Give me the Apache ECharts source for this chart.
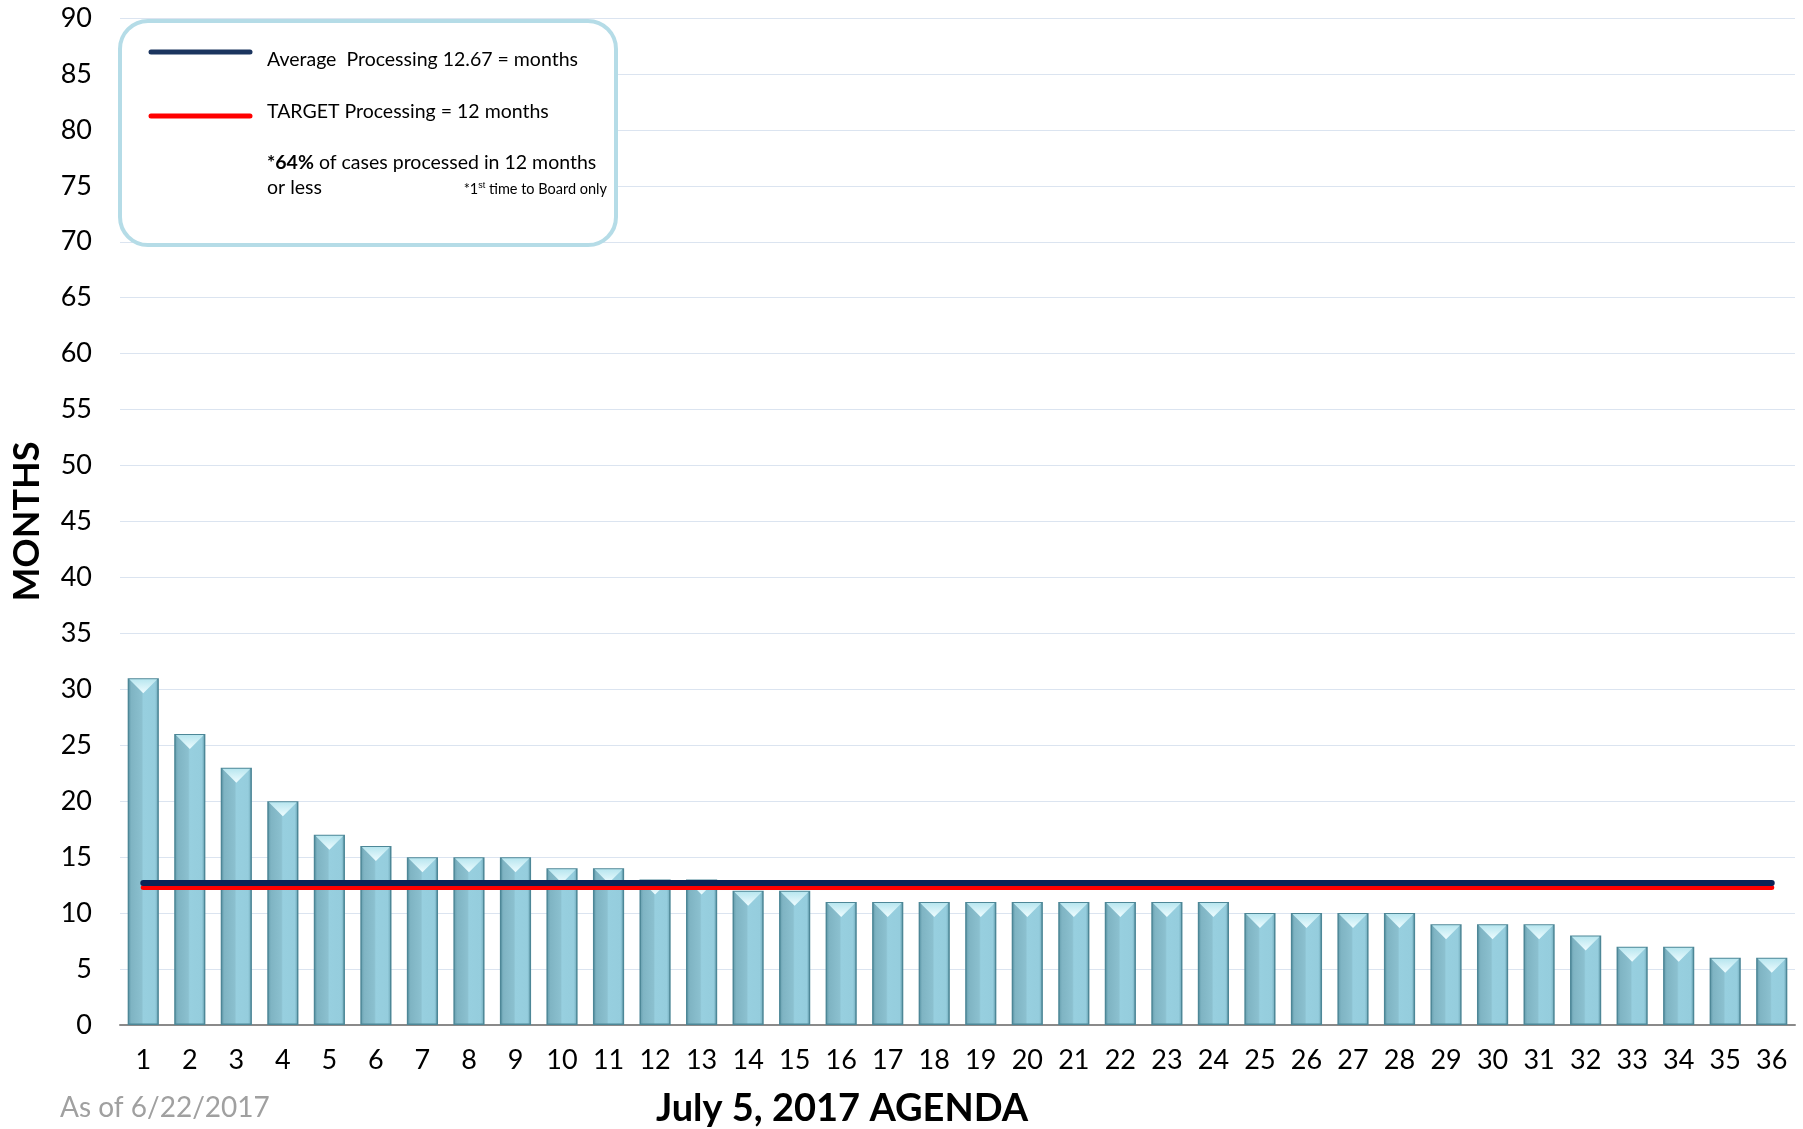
<!DOCTYPE html>
<html>
<head>
<meta charset="utf-8">
<script src="https://cdn.jsdelivr.net/npm/echarts@6/dist/echarts.min.js"></script>
<style>
  html, body { margin: 0; padding: 0; background: #fff; }
  #chart { width: 1803px; height: 1129px; }
</style>
</head>
<body>
<div id="chart"></div>
<script>
// data
var cases = ['1','2','3','4','5','6','7','8','9','10','11','12','13','14','15','16','17','18',
             '19','20','21','22','23','24','25','26','27','28','29','30','31','32','33','34','35','36'];
var months = [31, 26, 23, 20, 17, 16, 15, 15, 15, 14, 14, 13, 13, 12, 12, 11, 11, 11,
              11, 11, 11, 11, 11, 11, 10, 10, 10, 10, 9, 9, 9, 8, 7, 7, 6, 6];
var averageMonths = 12.67;
var targetMonths = 12.3;
var yTicks = [0, 90, 5];

var FONT = 'Lato, "Open Sans", sans-serif';

function loadChartView(id, option) {
    var myChart = echarts.init(document.getElementById(id));
    myChart.setOption(option);
    window.addEventListener('resize', function () {
        myChart.resize();
    });
    return myChart;
}

function getChart() {
    var option = {
        animation: false,
        backgroundColor: '#ffffff',
        grid: { left: 120, right: 8, top: 18, bottom: 104, outerBoundsMode: 'none', containLabel: false },
        xAxis: {
            type: 'category',
            data: cases,
            axisTick: { show: false },
            axisLine: { lineStyle: { color: '#8a8a8a', width: 2 } },
            axisLabel: { color: '#000', fontSize: 27, fontFamily: FONT, margin: 22 }
        },
        yAxis: {
            type: 'value',
            min: yTicks[0],
            max: yTicks[1],
            interval: yTicks[2],
            name: 'MONTHS',
            nameLocation: 'middle',
            nameRotate: 90,
            nameGap: 75,
            nameTextStyle: { color: '#000', fontSize: 36, fontWeight: 'bold', fontFamily: FONT },
            axisLine: { show: false },
            axisTick: { show: false },
            splitLine: { lineStyle: { color: '#dbe4f0', width: 1.2 } },
            axisLabel: { color: '#000', fontSize: 27, fontFamily: FONT, margin: 28 }
        },
        series: [
            {
                type: 'bar',
                data: months,
                barCategoryGap: '33%',
                z: 2,
                itemStyle: {
                    borderColor: '#4d8797',
                    borderWidth: 1.5,
                    color: new echarts.graphic.LinearGradient(0, 0, 1, 0, [
                        { offset: 0, color: '#5f98a8' },
                        { offset: 0.12, color: '#7fb4c3' },
                        { offset: 0.45, color: '#8bc0cf' },
                        { offset: 0.5, color: '#97cfdf' },
                        { offset: 0.88, color: '#95cddd' },
                        { offset: 1, color: '#6aa3b3' }
                    ])
                },
                markLine: {
                    silent: true,
                    symbol: 'none',
                    z: 6,
                    label: { show: false },
                    lineStyle: { color: '#ff0000', width: 5, type: 'solid', cap: 'round' },
                    data: [[{ coord: [cases[0], targetMonths] }, { coord: [cases[cases.length - 1], targetMonths] }]]
                }
            },
            {
                type: 'pictorialBar',
                data: months,
                barCategoryGap: '33%',
                symbol: 'triangle',
                symbolRotate: 180,
                symbolPosition: 'end',
                symbolSize: [28, 14],
                symbolOffset: [0, 1],
                z: 3,
                itemStyle: {
                    color: new echarts.graphic.LinearGradient(0, 0, 0, 1, [
                        { offset: 0, color: '#eefcff' },
                        { offset: 1, color: '#b8e6ef' }
                    ])
                },
                markLine: {
                    silent: true,
                    symbol: 'none',
                    z: 7,
                    label: { show: false },
                    lineStyle: { color: '#0b2356', width: 6, type: 'solid', cap: 'round' },
                    data: [[{ coord: [cases[0], averageMonths] }, { coord: [cases[cases.length - 1], averageMonths] }]]
                }
            }
        ],
        graphic: [
            {
                type: 'rect',
                left: 118, top: 19,
                shape: { width: 496, height: 224, r: 28 },
                style: { fill: '#ffffff', stroke: '#b5dce7', lineWidth: 4 },
                z: 10
            },
            {
                type: 'line',
                shape: { x1: 151, y1: 52, x2: 250, y2: 52 },
                style: { stroke: '#1b355f', lineWidth: 5, lineCap: 'round' },
                z: 11
            },
            {
                type: 'line',
                shape: { x1: 151, y1: 116, x2: 250, y2: 116 },
                style: { stroke: '#ff0000', lineWidth: 5, lineCap: 'round' },
                z: 11
            },
            {
                type: 'text',
                left: 267, top: 50,
                style: { text: 'Average  Processing 12.67 = months', fill: '#000', font: '19.5px ' + FONT },
                z: 11
            },
            {
                type: 'text',
                left: 267, top: 102,
                style: { text: 'TARGET Processing = 12 months', fill: '#000', font: '19.5px ' + FONT },
                z: 11
            },
            {
                type: 'text',
                left: 267, top: 153,
                style: {
                    text: '{b|*64%} of cases processed in 12 months',
                    fill: '#000',
                    font: '19.5px ' + FONT,
                    rich: { b: { fontWeight: 'bold', fontSize: 19.5, fontFamily: FONT } }
                },
                z: 11
            },
            {
                type: 'text',
                left: 267, top: 178,
                style: { text: 'or less', fill: '#000', font: '19.5px ' + FONT },
                z: 11
            },
            {
                type: 'text',
                x: 607, y: 181,
                style: {
                    text: '*1{s|st} time to Board only',
                    fill: '#000',
                    font: '14.5px ' + FONT,
                    align: 'right',
                    rich: { s: { fontSize: 9, verticalAlign: 'top', padding: [0, 0, 7, 0] } }
                },
                z: 11
            },
            {
                type: 'text',
                left: 60, top: 1094,
                style: { text: 'As of 6/22/2017', fill: '#a0a0a0', font: '28px ' + FONT }
            },
            {
                type: 'text',
                x: 842, y: 1109,
                style: {
                    text: 'July 5, 2017 AGENDA',
                    fill: '#000',
                    font: 'bold 38px ' + FONT,
                    align: 'center',
                    verticalAlign: 'middle'
                }
            }
        ]
    };
    return option;
}

loadChartView('chart', getChart());
</script>
</body>
</html>
